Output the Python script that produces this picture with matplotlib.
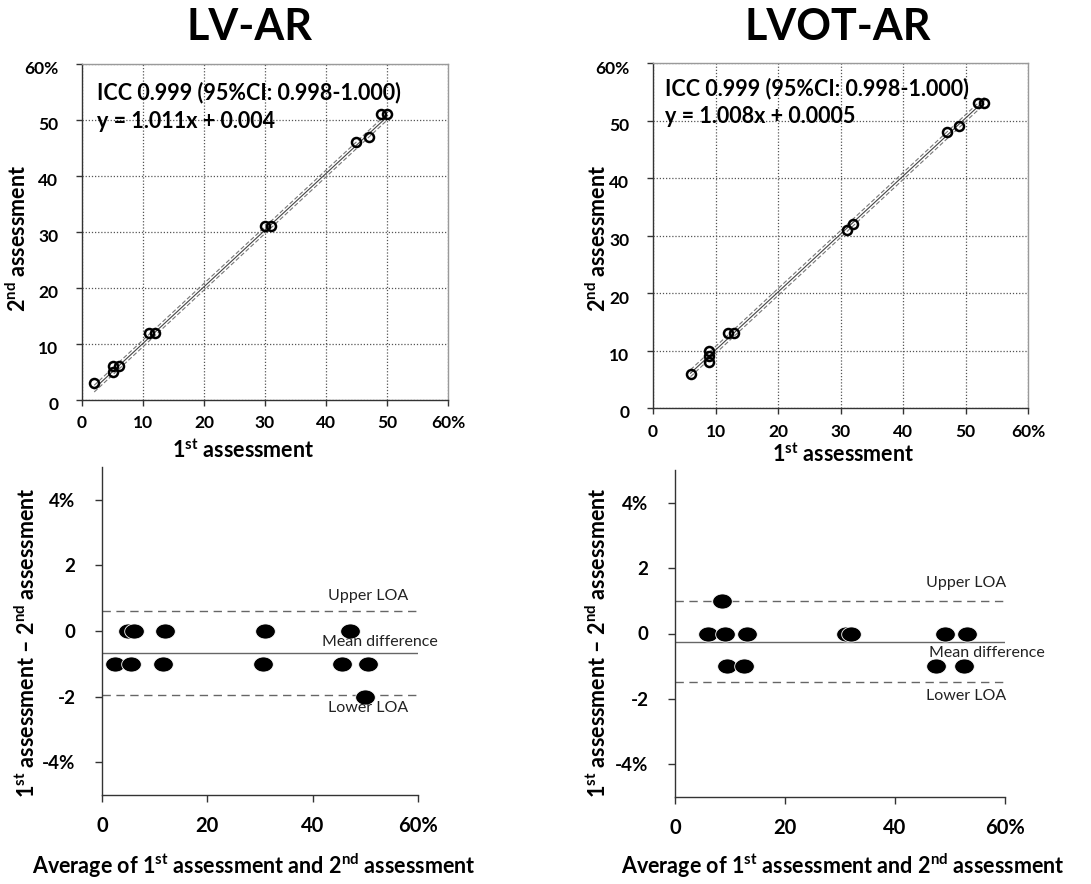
import matplotlib
matplotlib.use("Agg")
import matplotlib.pyplot as plt
import matplotlib.transforms as mtransforms
from matplotlib.path import Path
import numpy as np

plt.rcParams['font.family'] = ['Lato', 'DejaVu Sans']
plt.rcParams['mathtext.fontset'] = 'custom'
plt.rcParams['mathtext.rm'] = 'Lato:bold'
plt.rcParams['mathtext.bf'] = 'Lato:bold'
plt.rcParams['mathtext.it'] = 'Lato:bold'

# ---------------- data ----------------
titles = ["LV-AR", "LVOT-AR"]

lv_first = [2, 5, 5, 6, 11, 12, 30, 31, 45, 47, 49, 50]
lv_second = [3, 5, 6, 6, 12, 12, 31, 31, 46, 47, 51, 51]
lv_slope, lv_intercept = 1.011, 0.004
lv_icc_text = "ICC 0.999 (95%CI: 0.998-1.000)"
lv_eq_text = "y = 1.011x + 0.004"
lv_loa = [0.61, -0.67, -1.94]  # upper, mean, lower

lvot_first = [6, 9, 9, 9, 12, 13, 31, 32, 47, 49, 52, 53]
lvot_second = [6, 10, 9, 8, 13, 13, 31, 32, 48, 49, 53, 53]
lvot_slope, lvot_intercept = 1.008, 0.0005
lvot_icc_text = "ICC 0.999 (95%CI: 0.998-1.000)"
lvot_eq_text = "y = 1.008x + 0.0005"
lvot_loa = [0.98, -0.25, -1.47]

scatter_ticks = [0, 10, 20, 30, 40, 50, 60]
scatter_ticklabels = ["0", "10", "20", "30", "40", "50", "60%"]
ba_xticks = [0, 20, 40, 60]
ba_xticklabels = ["0", "20", "40", "60%"]
ba_yticks = [-4, -2, 0, 2, 4]
ba_yticklabels = ["-4%", "-2", "0", "2", "4%"]
loa_names = ["Upper LOA", "Mean difference", "Lower LOA"]

W, H = 1091, 884
fig = plt.figure(figsize=(W / 100, H / 100), dpi=100)


def rect(x0, y0, x1, y1):
    return [x0 / W, 1 - y1 / H, (x1 - x0) / W, (y1 - y0) / H]


# ellipse marker for Bland-Altman
t = np.linspace(0, 2 * np.pi, 60)
ell = Path(np.column_stack([1.3 * np.cos(t), np.sin(t)]), closed=True)


def scatter_panel(pos, first, second, slope, intercept, icc, eq, txtpos, xpad):
    ax = fig.add_axes(rect(*pos))
    ax.set_xlim(0, 60)
    ax.set_ylim(0, 60)
    ax.set_xticks(scatter_ticks)
    ax.set_xticklabels(scatter_ticklabels, fontsize=12.5, fontweight='bold')
    ax.set_yticks(scatter_ticks)
    ax.set_yticklabels(scatter_ticklabels, fontsize=12.5, fontweight='bold')
    ax.grid(True, linestyle=(0, (1, 1.5)), color='#555555', linewidth=0.9)
    ax.set_axisbelow(True)
    for s in ['top', 'right']:
        ax.spines[s].set_color('#9a9a9a')
        ax.spines[s].set_linewidth(1.0)
    for s in ['left', 'bottom']:
        ax.spines[s].set_color('#333333')
        ax.spines[s].set_linewidth(1.0)
    ax.tick_params(axis='both', direction='out', length=4, width=1, color='#333333')
    ax.tick_params(axis='y', pad=13)
    ax.tick_params(axis='x', pad=xpad)
    off = mtransforms.ScaledTranslation(0, -4 / 100, fig.dpi_scale_trans)
    for lab in ax.get_yticklabels():
        lab.set_transform(lab.get_transform() + off)
    xs = np.array([min(first), max(first)], dtype=float)
    ys = slope * xs + intercept
    ax.plot(xs, ys, color='#444444', lw=0.8, zorder=2)
    ax.plot(xs, ys + 0.6, color='#777777', lw=0.8, ls=(0, (4, 2)), zorder=2)
    ax.plot(xs, ys - 0.6, color='#777777', lw=0.8, ls=(0, (4, 2)), zorder=2)
    ax.plot(first, second, 'o', mfc='none', mec='black', mew=1.8, ms=6.5, zorder=3)
    ax.text(txtpos[0], txtpos[1], icc, transform=ax.transAxes, fontsize=15.5,
            fontweight='bold', va='center', ha='left')
    ax.text(txtpos[0], txtpos[2], eq, transform=ax.transAxes, fontsize=15.5,
            fontweight='bold', va='center', ha='left')
    return ax


def ba_panel(pos, first, second, loa, textpos):
    ax = fig.add_axes(rect(*pos))
    f = np.array(first, dtype=float)
    s = np.array(second, dtype=float)
    avg = (f + s) / 2
    diff = f - s
    ax.set_xlim(0, 60)
    ax.set_ylim(-5, 5)
    ax.set_xticks(ba_xticks)
    ax.set_xticklabels(ba_xticklabels, fontsize=14.5, fontweight='bold')
    ax.set_yticks(ba_yticks)
    ax.set_yticklabels(ba_yticklabels, fontsize=13.5, fontweight='bold')
    for sname in ['top', 'right']:
        ax.spines[sname].set_visible(False)
    for sname in ['left', 'bottom']:
        ax.spines[sname].set_color('#333333')
        ax.spines[sname].set_linewidth(1.0)
    ax.tick_params(axis='both', direction='out', length=5, width=1, color='#333333')
    ax.tick_params(axis='y', pad=14)
    ax.tick_params(axis='x', pad=10)
    ax.axhline(loa[0], color='#666666', lw=1.0, ls=(0, (6, 4)))
    ax.axhline(loa[1], color='#666666', lw=1.0)
    ax.axhline(loa[2], color='#666666', lw=1.0, ls=(0, (6, 4)))
    ax.scatter(avg, diff, marker=ell, s=200, facecolor='black', edgecolor='white',
               linewidth=0.6, zorder=3)
    for name, (tx, ty) in zip(loa_names, textpos):
        ax.text(tx, ty, name, fontsize=11.5, ha='center', va='center', color='#222222')
    return ax


scatter_panel((82, 64, 448, 400), lv_first, lv_second, lv_slope, lv_intercept,
              lv_icc_text, lv_eq_text, (0.04, 0.914, 0.828), 7)
scatter_panel((653, 63, 1028, 408), lvot_first, lvot_second, lvot_slope, lvot_intercept,
              lvot_icc_text, lvot_eq_text, (0.032, 0.927, 0.844), 7.5)

ba_panel((102, 467, 418, 795), lv_first, lv_second, lv_loa,
         [(50.5, 1.06), (52.8, -0.35), (50.5, -2.35)])
ba_panel((675, 470, 1005, 797), lvot_first, lvot_second, lvot_loa,
         [(52.9, 1.54), (56.7, -0.59), (52.9, -1.90)])

# titles
fig.text(249 / W, 1 - 27 / H, titles[0], fontsize=31, fontweight='bold', ha='center', va='center')
fig.text(838 / W, 1 - 27 / H, titles[1], fontsize=31, fontweight='bold', ha='center', va='center')

# axis labels
lab_kw = dict(fontsize=15.5, fontweight='bold', ha='center', va='center')
fig.text(243 / W, 1 - 450 / H, r'1$^{\mathrm{st}}$ assessment', **lab_kw)
fig.text(843 / W, 1 - 454 / H, r'1$^{\mathrm{st}}$ assessment', **lab_kw)
fig.text(18 / W, 1 - 238 / H, r'2$^{\mathrm{nd}}$ assessment', rotation=90, **lab_kw)
fig.text(598 / W, 1 - 238 / H, r'2$^{\mathrm{nd}}$ assessment', rotation=90, **lab_kw)
fig.text(27 / W, 1 - 643 / H, r'1$^{\mathrm{st}}$ assessment – 2$^{\mathrm{nd}}$ assessment',
         rotation=90, **lab_kw)
fig.text(598 / W, 1 - 643 / H, r'1$^{\mathrm{st}}$ assessment – 2$^{\mathrm{nd}}$ assessment',
         rotation=90, **lab_kw)
fig.text(254 / W, 1 - 866 / H, r'Average of 1$^{\mathrm{st}}$ assessment and 2$^{\mathrm{nd}}$ assessment', **lab_kw)
fig.text(843 / W, 1 - 866 / H, r'Average of 1$^{\mathrm{st}}$ assessment and 2$^{\mathrm{nd}}$ assessment', **lab_kw)

fig.savefig("out.png", dpi=100)
